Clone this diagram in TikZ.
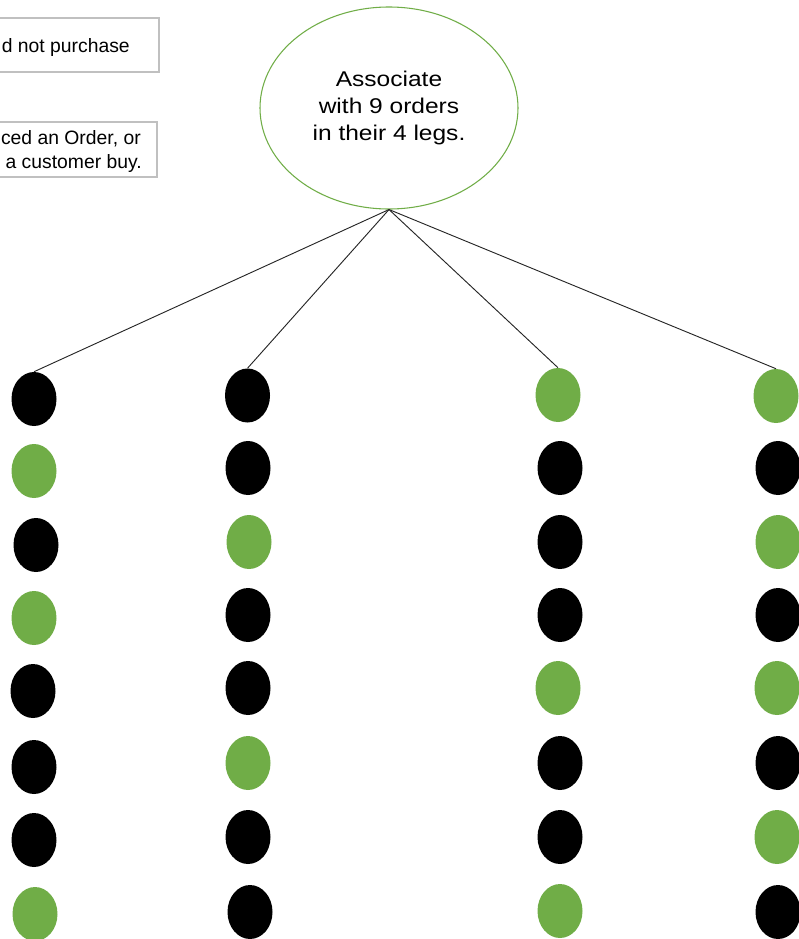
\documentclass[tikz,border=0pt]{standalone}
\usepackage{fontspec}
\setmainfont{Liberation Sans}
\usetikzlibrary{shapes.geometric}
\definecolor{xgreen}{HTML}{70AD47}
\definecolor{boxgray}{HTML}{C0C0C0}
\tikzset{
  dotb/.style={ellipse,fill=black,draw=none,minimum width=33.75pt,minimum height=40.5pt,inner sep=0pt},
  dotg/.style={ellipse,fill=xgreen,draw=none,minimum width=33.75pt,minimum height=40.5pt,inner sep=0pt},
  leg/.style={draw=black!85,line width=0.7pt},
  note/.style={draw=boxgray,line width=0.8pt},
  small/.style={inner sep=0pt,font=\fontsize{14.5}{18}\selectfont},
}
\begin{document}
\begin{tikzpicture}[x=0.75pt,y=-0.75pt]
\useasboundingbox (0,0) rectangle (799,939);
\clip (0,0) rectangle (799,939);
% note boxes (cut at left edge)
\draw[note] (-80,18) rectangle (159,72);
\node[small,anchor=base east] (t1) at (130,52) {d not purchase};
\draw[note] (-80,122) rectangle (157,177);
\node[small,anchor=base east] (t2) at (141,144) {ced an Order, or};
\node[small,anchor=base east] (t3) at (142,168) {a customer buy.};
% main ellipse
\node[ellipse,draw=xgreen,line width=0.8pt,minimum width=193.5pt,minimum height=151.5pt,inner sep=0pt,align=center,font=\fontsize{16}{20.6}\selectfont] (top) at (389,108)
  {\scalebox{1.15}[1]{Associate}\\\scalebox{1.15}[1]{with 9 orders}\\\scalebox{1.15}[1]{in their 4 legs.}};
% column 1
\node[dotb] (a1) at (34,399) {};
\node[dotg] (a2) at (34,471) {};
\node[dotb] (a3) at (36,545) {};
\node[dotg] (a4) at (34,618) {};
\node[dotb] (a5) at (33,691) {};
\node[dotb] (a6) at (34,767) {};
\node[dotb] (a7) at (34,840) {};
\node[dotg] (a8) at (35,914) {};
% column 2
\node[dotb] (b1) at (247.5,395.5) {};
\node[dotb] (b2) at (248,468) {};
\node[dotg] (b3) at (249,542) {};
\node[dotb] (b4) at (248,615) {};
\node[dotb] (b5) at (248,688) {};
\node[dotg] (b6) at (248,763) {};
\node[dotb] (b7) at (248,837) {};
\node[dotb] (b8) at (250,912) {};
% column 3
\node[dotg] (c1) at (558,395) {};
\node[dotb] (c2) at (560,468) {};
\node[dotb] (c3) at (560,542) {};
\node[dotb] (c4) at (560,615) {};
\node[dotg] (c5) at (558,688) {};
\node[dotb] (c6) at (560,763) {};
\node[dotb] (c7) at (560,837) {};
\node[dotg] (c8) at (560,911) {};
% column 4
\node[dotg] (d1) at (776,396) {};
\node[dotb] (d2) at (778,468) {};
\node[dotg] (d3) at (778,542) {};
\node[dotb] (d4) at (778,615) {};
\node[dotg] (d5) at (777,688) {};
\node[dotb] (d6) at (778,763) {};
\node[dotg] (d7) at (777,837) {};
\node[dotb] (d8) at (778,912) {};
% legs
\draw[leg] (top.south) -- (a1.north);
\draw[leg] (top.south) -- (b1.north);
\draw[leg] (top.south) -- (c1.north);
\draw[leg] (top.south) -- (d1.north);
\end{tikzpicture}
\end{document}
